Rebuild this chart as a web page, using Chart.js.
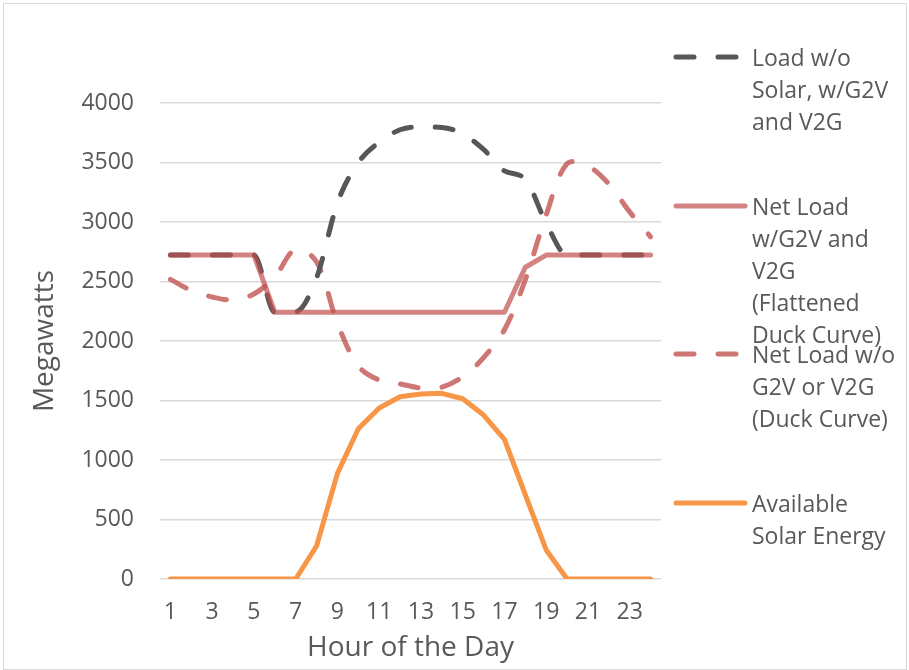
<!DOCTYPE html>
<html>
<head>
<meta charset="utf-8">
<script src="https://cdn.jsdelivr.net/npm/chart.js@4.4.0/dist/chart.umd.min.js"></script>
<style>
  body { margin: 0; background: #fff; }
  #wrap { position: relative; width: 909px; height: 670px; font-family: "Open Sans", sans-serif; color: #595959; }
  #frame { position: absolute; left: 3px; top: 3px; width: 904px; height: 667px; border: 1px solid #d9d9d9; box-sizing: border-box; pointer-events: none; }
  .item { position: absolute; left: 673px; width: 236px; font-size: 23px; line-height: 32px; }
  .item svg { position: absolute; left: 0; top: 11px; }
  .item div { position: absolute; left: 79px; top: 0; white-space: nowrap; }
</style>
</head>
<body>
<div id="wrap">
  <canvas id="chart" width="909" height="670"></canvas>
  <div id="legend"></div>
  <div id="frame"></div>
</div>
<script>
// hours on the x axis
const hours = ['1','2','3','4','5','6','7','8','9','10','11','12','13','14','15','16','17','18','19','20','21','22','23','24'];

// megawatts
const loadNoSolar = [2722, 2722, 2722, 2722, 2722, 2241, 2245, 2530, 3160, 3500, 3670, 3775, 3800, 3795, 3740, 3610, 3430, 3360, 2990, 2722, 2722, 2722, 2722, 2722];
const netLoadFlat = [2722, 2722, 2722, 2722, 2722, 2241, 2241, 2241, 2241, 2241, 2241, 2241, 2241, 2241, 2241, 2241, 2241, 2620, 2722, 2722, 2722, 2722, 2722, 2722];
const netLoadDuck = [2518, 2425, 2370, 2345, 2395, 2540, 2770, 2665, 2150, 1790, 1672, 1640, 1605, 1612, 1700, 1860, 2095, 2515, 3060, 3490, 3470, 3320, 3085, 2875];
const solar = [0, 0, 0, 0, 0, 0, 0, 277, 888, 1263, 1437, 1532, 1554, 1560, 1515, 1378, 1174, 708, 244, 0, 0, 0, 0, 0];

const yTicks = { min: 0, max: 4000, step: 500 };

// legend text, broken into lines like the original
const legendLines = [
  ['Load w/o', 'Solar, w/G2V', 'and V2G'],
  ['Net Load', 'w/G2V and', 'V2G', '(Flattened', 'Duck Curve)'],
  ['Net Load w/o', 'G2V or V2G', '(Duck Curve)'],
  ['Available', 'Solar Energy']
];
const legendTop = [41, 190, 338, 487];

const textColor = '#595959';
const dash = [18, 24];

const datasets = [
  { label: 'Load w/o Solar, w/G2V and V2G', data: loadNoSolar, borderColor: '#575757', borderDash: dash, cubicInterpolationMode: 'monotone', order: 1 },
  { label: 'Net Load w/G2V and V2G (Flattened Duck Curve)', data: netLoadFlat, borderColor: 'rgba(192,80,77,0.7)', tension: 0, order: 0 },
  { label: 'Net Load w/o G2V or V2G (Duck Curve)', data: netLoadDuck, borderColor: 'rgba(192,80,77,0.78)', borderDash: dash, tension: 0.35, order: 2 },
  { label: 'Available Solar Energy', data: solar, borderColor: '#F79646', tension: 0, order: 3 }
];
datasets.forEach(d => {
  d.borderWidth = 5;
  d.pointRadius = 0;
  d.borderCapStyle = 'round';
  d.borderJoinStyle = 'round';
  d.fill = false;
});

new Chart(document.getElementById('chart'), {
  type: 'line',
  data: { labels: hours, datasets: datasets },
  options: {
    responsive: false,
    animation: false,
    layout: { padding: { left: 10, right: 248, top: 103, bottom: 0 } },
    plugins: { legend: { display: false }, tooltip: { enabled: false } },
    scales: {
      x: {
        offset: true,
        grid: { display: false, drawTicks: false },
        border: { display: false },
        ticks: {
          autoSkip: false, maxRotation: 0, padding: 20, color: textColor,
          font: { family: 'Open Sans', size: 23 },
          callback: function (v, i) { return i % 2 === 0 ? this.getLabelForValue(v) : ''; }
        },
        title: { display: true, text: 'Hour of the Day', color: textColor, font: { family: 'Open Sans', size: 28 }, padding: { top: 0, bottom: 5 } },
        afterFit: s => { s.height = 91; }
      },
      y: {
        min: yTicks.min, max: yTicks.max,
        grid: { color: '#d9d9d9', lineWidth: 1.5, drawTicks: false },
        border: { display: false },
        ticks: { stepSize: yTicks.step, padding: 26, color: textColor, font: { family: 'Open Sans', size: 23 }, callback: v => String(v) },
        title: { display: true, text: 'Megawatts', color: textColor, font: { family: 'Open Sans', size: 28 }, padding: { top: 18, bottom: 0 } },
        afterFit: s => { s.width = 150; }
      }
    }
  }
});

// html legend on the right
const legend = document.getElementById('legend');
datasets.forEach((d, i) => {
  const item = document.createElement('div');
  item.className = 'item';
  item.style.top = legendTop[i] + 'px';
  const dashAttr = d.borderDash ? ` stroke-dasharray="${d.borderDash.join(' ')}"` : '';
  const x2 = d.borderDash ? 66 : 72;
  item.innerHTML = `<svg width="80" height="10"><line x1="3" y1="5" x2="${x2}" y2="5" stroke="${d.borderColor}" stroke-width="5" stroke-linecap="round"${dashAttr}/></svg>` +
    `<div>${legendLines[i].join('<br>')}</div>`;
  legend.appendChild(item);
});
</script>
</body>
</html>
